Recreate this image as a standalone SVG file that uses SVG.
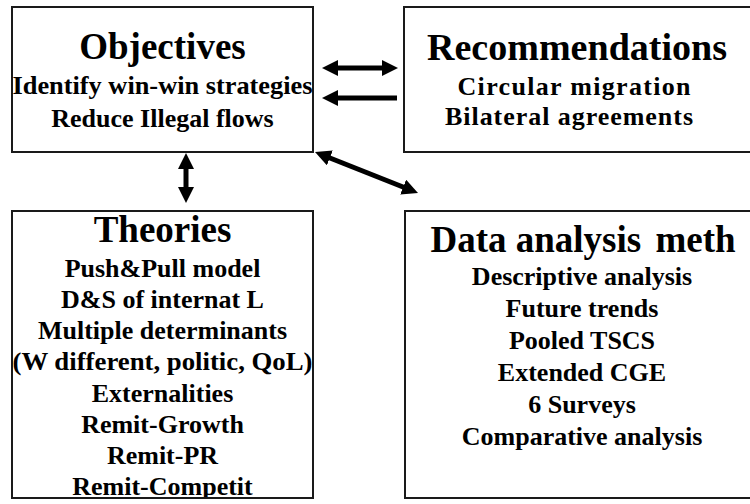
<svg xmlns="http://www.w3.org/2000/svg" width="750" height="504" viewBox="0 0 750 504">
<style>
  .box { fill: #ffffff; stroke: #1a1a1a; stroke-width: 2; }
  text { font-family: 'Liberation Serif', Tinos, 'Times New Roman', Times, 'DejaVu Serif', serif; font-weight: bold; fill: #000; text-anchor: middle; }
  .title { font-size: 37px; }
  .line { font-size: 26px; }
  .conn { stroke: #000; stroke-width: 5; fill: none; }
</style>
<defs>
  <marker id="head" viewBox="0 0 16 16" refX="6" refY="8" markerWidth="16" markerHeight="16" markerUnits="userSpaceOnUse" orient="auto-start-reverse">
    <path d="M0,0 L16,8 L0,16 z" fill="#000"/>
  </marker>
  <clipPath id="clipTheories"><rect x="12" y="211" width="301" height="287"/></clipPath>
</defs>
<rect width="750" height="504" fill="#ffffff"/>

<g id="objectives">
  <rect class="box" x="12" y="7" width="301" height="145"/>
  <text class="title" x="162.5" y="59">Objectives</text>
  <text class="line" x="162.5" y="94" textLength="300" lengthAdjust="spacingAndGlyphs">Identify win-win strategies</text>
  <text class="line" x="162.5" y="127">Reduce Illegal flows</text>
</g>

<g id="recommendations">
  <rect class="box" x="404" y="7" width="350" height="145"/>
  <text class="title" x="577" y="60" textLength="300" lengthAdjust="spacingAndGlyphs">Recommendations</text>
  <text class="line" x="574" y="95" textLength="233" lengthAdjust="spacing">Circular migration</text>
  <text class="line" x="569" y="125" textLength="248" lengthAdjust="spacing">Bilateral agreements</text>
</g>

<g id="theories">
  <rect class="box" x="12" y="211" width="301" height="287"/>
  <g clip-path="url(#clipTheories)">
    <text class="title" x="162.5" y="242">Theories</text>
    <text class="line" x="162.5" y="277">Push&amp;Pull model</text>
    <text class="line" x="162.5" y="308">D&amp;S of internat L</text>
    <text class="line" x="162.5" y="339">Multiple determinants</text>
    <text class="line" x="162.5" y="370" textLength="300" lengthAdjust="spacingAndGlyphs">(W different, politic, QoL)</text>
    <text class="line" x="162.5" y="402">Externalities</text>
    <text class="line" x="162.5" y="433">Remit-Growth</text>
    <text class="line" x="162.5" y="464">Remit-PR</text>
    <text class="line" x="162.5" y="495">Remit-Competit</text>
  </g>
  <rect x="12" y="211" width="301" height="287" fill="none" stroke="#1a1a1a" stroke-width="2"/>
</g>

<g id="data-analysis">
  <rect class="box" x="405" y="211" width="354" height="287"/>
  <text class="title" x="583" y="252">Data analysis <tspan dx="5">meth</tspan></text>
  <text class="line" x="582" y="285">Descriptive analysis</text>
  <text class="line" x="582" y="317">Future trends</text>
  <text class="line" x="582" y="349">Pooled TSCS</text>
  <text class="line" x="582" y="381">Extended CGE</text>
  <text class="line" x="582" y="413">6 Surveys</text>
  <text class="line" x="582" y="445">Comparative analysis</text>
</g>

<g id="connectors">
  <line class="conn" x1="332" y1="68" x2="388" y2="68" marker-start="url(#head)" marker-end="url(#head)"/>
  <line class="conn" x1="397" y1="98" x2="332" y2="98" marker-end="url(#head)"/>
  <line class="conn" x1="186" y1="163" x2="186" y2="193" marker-start="url(#head)" marker-end="url(#head)"/>
  <line class="conn" x1="324.3" y1="155.7" x2="408.7" y2="189.3" marker-start="url(#head)" marker-end="url(#head)"/>
</g>
</svg>
